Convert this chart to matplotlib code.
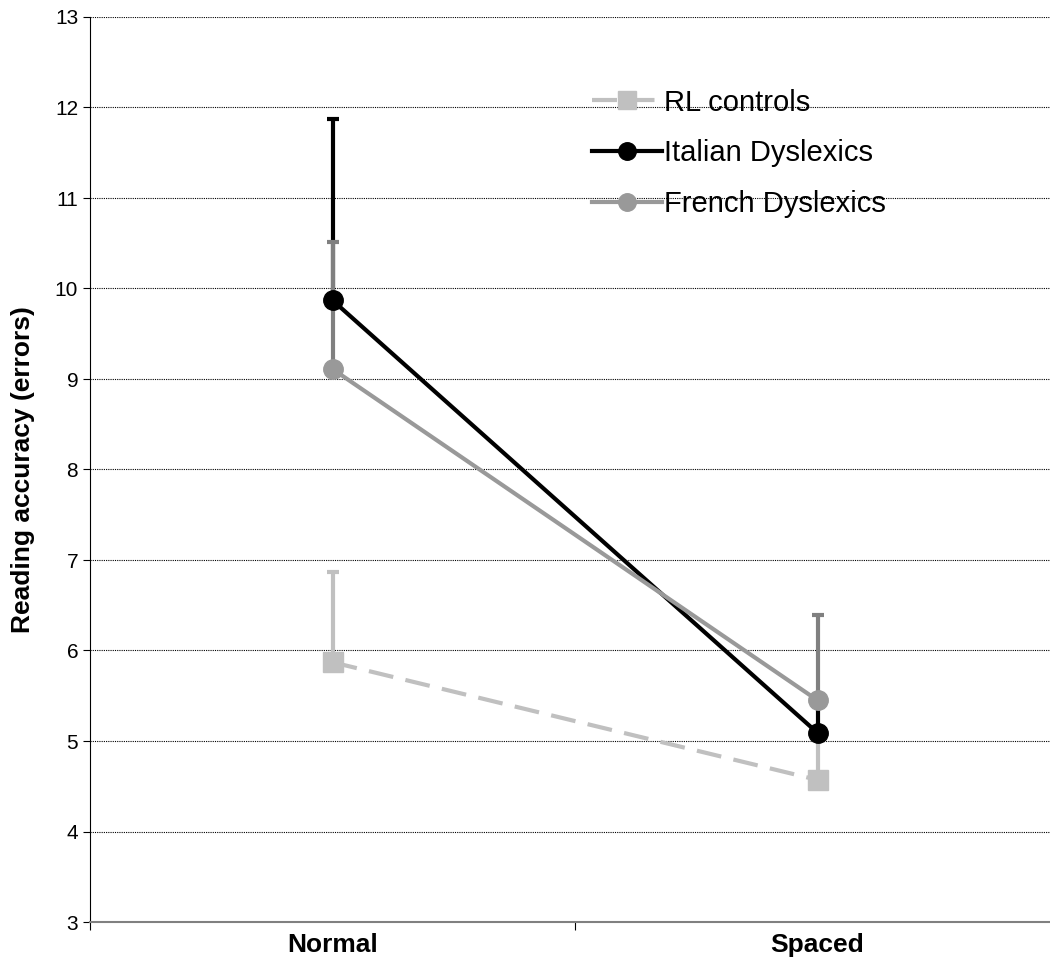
import matplotlib.pyplot as plt

plt.rcParams["font.family"] = ["Liberation Sans", "DejaVu Sans"]

conditions = ["Normal", "Spaced"]
series_names = ["RL controls", "Italian Dyslexics", "French Dyslexics"]
rl_controls = [5.87, 4.57]
italian_dys = [9.87, 5.09]
french_dys = [9.11, 5.45]
rl_err = [1.0, 0.5]
italian_err = [2.0, 0.36]
french_err = [1.40, 0.94]
y_ticks = [3, 4, 5, 6, 7, 8, 9, 10, 11, 12, 13]


def main():
    fig = plt.figure(figsize=(10.5, 9.72), dpi=100)
    ax = fig.add_axes([90 / 1050, 50 / 972, 970 / 1050, 905 / 972])

    x = list(range(len(conditions)))

    styles = [
        (rl_controls, rl_err, "#c0c0c0", "#c0c0c0", "s", (6, 3)),
        (italian_dys, italian_err, "black", "black", "o", None),
        (french_dys, french_err, "#999999", "#808080", "o", None),
    ]

    for name, (vals, err, col, ecol, mk, dash) in zip(series_names, styles):
        ax.errorbar(x, vals, yerr=[[0] * len(err), err], fmt="none",
                    ecolor=ecol, elinewidth=3, capsize=4.5, capthick=3,
                    zorder=2)
        kw = dict(color=col, linewidth=3, marker=mk, markersize=14,
                  markerfacecolor=col, markeredgecolor=col, label=name,
                  zorder=3)
        if dash:
            kw["dashes"] = dash
        ax.plot(x, vals, **kw)

    ax.set_xlim(-0.5, 1.5)
    ax.set_ylim(3, 13)
    ax.set_yticks(y_ticks)
    ax.tick_params(axis="y", labelsize=15, length=5, direction="out")
    ax.set_xticks([-0.5, 0.5, 1.5])
    ax.set_xticklabels([])
    ax.tick_params(axis="x", which="major", length=6, direction="out")
    ax.set_xticks(x, minor=True)
    ax.set_xticklabels(conditions, minor=True, fontsize=19, fontweight="bold")
    ax.tick_params(axis="x", which="minor", length=0, pad=8)

    ax.grid(axis="y", color="black", linestyle=(0, (1, 1)), linewidth=0.8)
    ax.set_axisbelow(True)

    for side in ["top", "right"]:
        ax.spines[side].set_visible(False)
    ax.spines["left"].set_color("black")
    ax.spines["bottom"].set_color("#808080")
    ax.spines["bottom"].set_linewidth(1.5)

    ax.set_ylabel("Reading accuracy (errors)", fontsize=19, fontweight="bold",
                  labelpad=14)

    ax.legend(loc="upper left", bbox_to_anchor=(0.49, 0.95), frameon=False,
              fontsize=21, handlelength=2.4, handletextpad=0.1,
              labelspacing=0.78, markerscale=0.9)

    fig.savefig("out.png", dpi=100)
    plt.close(fig)


if __name__ == "__main__":
    main()
